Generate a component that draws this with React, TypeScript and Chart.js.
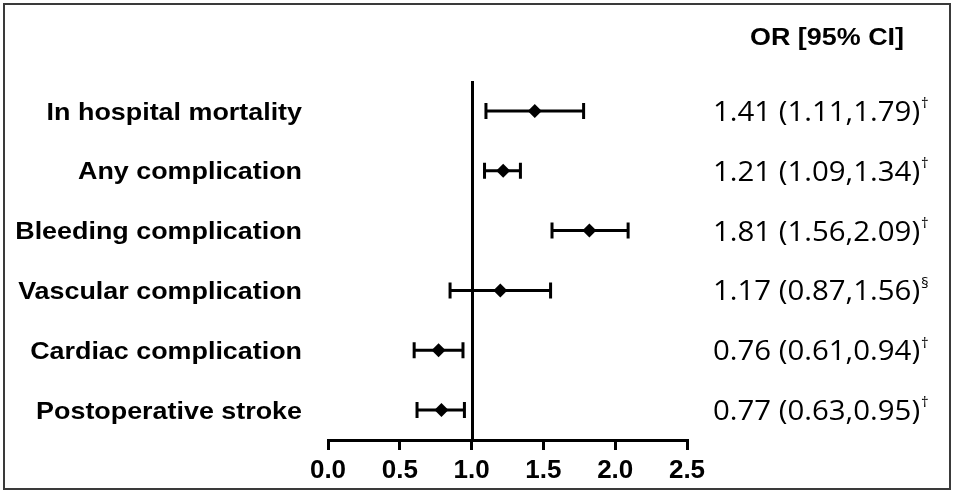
import React, { useEffect, useRef } from "react";
import { Chart, registerables } from "chart.js";

Chart.register(...registerables);

const outcomes = [
  "In hospital mortality",
  "Any complication",
  "Bleeding complication",
  "Vascular complication",
  "Cardiac complication",
  "Postoperative stroke",
];
const oddsRatio = [1.44, 1.22, 1.82, 1.2, 0.77, 0.79];
const ciLower = [1.1, 1.09, 1.56, 0.85, 0.6, 0.62];
const ciUpper = [1.78, 1.34, 2.09, 1.55, 0.94, 0.95];
const orText = [
  "1.41 (1.11,1.79)",
  "1.21 (1.09,1.34)",
  "1.81 (1.56,2.09)",
  "1.17 (0.87,1.56)",
  "0.76 (0.61,0.94)",
  "0.77 (0.63,0.95)",
];
const orMarks = ["†", "†", "†", "§", "†", "†"];
const xTicks = [0, 0.5, 1, 1.5, 2, 2.5];
const headerText = "OR [95% CI]";

function drawStretched(ctx: any, text: string, x: number, y: number, align: string, sx: number) {
  ctx.save();
  ctx.translate(x, y);
  ctx.scale(sx, 1);
  ctx.textAlign = align;
  ctx.fillText(text, 0, 0);
  const w = ctx.measureText(text).width * sx;
  ctx.restore();
  return w;
}

const forestPlugin = {
  id: "forest",
  beforeDatasetsDraw(chart: any) {
    const { ctx, scales } = chart;
    const xs = scales.x;
    const ys = scales.y;
    ctx.save();
    ctx.strokeStyle = "#000";
    ctx.lineWidth = 3;
    const x1 = Math.round(xs.getPixelForValue(1)) + 0.5;
    ctx.beginPath();
    ctx.moveTo(x1, chart.chartArea.top);
    ctx.lineTo(x1, chart.chartArea.bottom);
    ctx.stroke();
    for (let i = 0; i < outcomes.length; i++) {
      const y = ys.getPixelForValue(i);
      const xl = xs.getPixelForValue(ciLower[i]);
      const xu = xs.getPixelForValue(ciUpper[i]);
      ctx.beginPath();
      ctx.moveTo(xl, y);
      ctx.lineTo(xu, y);
      ctx.moveTo(xl, y - 8);
      ctx.lineTo(xl, y + 8);
      ctx.moveTo(xu, y - 8);
      ctx.lineTo(xu, y + 8);
      ctx.stroke();
    }
    ctx.restore();
  },
  afterDraw(chart: any) {
    const { ctx, scales } = chart;
    const ys = scales.y;
    ctx.save();
    ctx.fillStyle = "#000";
    ctx.textBaseline = "middle";
    ctx.font = "bold 24px 'Liberation Sans', Arial, sans-serif";
    for (let i = 0; i < outcomes.length; i++) {
      drawStretched(ctx, outcomes[i], 302, ys.getPixelForValue(i) + 2, "right", 1.12);
    }
    ctx.font = "bold 23px 'Liberation Sans', Arial, sans-serif";
    drawStretched(ctx, headerText, 750, 39, "left", 1.17);
    for (let i = 0; i < outcomes.length; i++) {
      const y = ys.getPixelForValue(i) + 2;
      ctx.font = "28px 'Open Sans', sans-serif";
      const w = drawStretched(ctx, orText[i], 713, y, "left", 1.05);
      ctx.font = "15px 'Open Sans', sans-serif";
      drawStretched(ctx, orMarks[i], 713 + w + 1, y - 9, "left", 1.0);
    }
    ctx.restore();
  },
};

export default function App() {
  const ref = useRef<HTMLCanvasElement | null>(null);
  useEffect(() => {
    if (!ref.current) return;
    const chart = new Chart(ref.current, {
      type: "scatter",
      data: {
        datasets: [
          {
            data: oddsRatio.map((v, i) => ({ x: v, y: i })),
            pointStyle: "rectRot",
            pointRadius: 7,
            pointHoverRadius: 7,
            backgroundColor: "#000",
            borderColor: "#000",
            borderWidth: 0,
          },
        ],
      },
      options: {
        animation: false,
        responsive: false,
        events: [],
        layout: { padding: { left: 328, right: 266, top: 81, bottom: 0 } },
        plugins: { legend: { display: false }, tooltip: { enabled: false } },
        scales: {
          x: {
            type: "linear",
            min: 0,
            max: 2.5,
            afterFit(scale: any) {
              scale.height = 51;
            },
            afterBuildTicks(scale: any) {
              scale.ticks = xTicks.map((v) => ({ value: v }));
            },
            border: { display: true, width: 3, color: "#000" },
            grid: {
              drawOnChartArea: false,
              drawTicks: true,
              tickLength: 10,
              lineWidth: 3,
              color: "#000",
            },
            ticks: {
              color: "#000",
              padding: 5,
              maxRotation: 0,
              font: { family: "'Liberation Sans', Arial, sans-serif", size: 26, weight: "bold" },
              callback: (v: any) => Number(v).toFixed(1),
            },
          },
          y: {
            type: "linear",
            min: -0.5,
            max: 5.5,
            reverse: true,
            display: false,
          },
        },
      },
      plugins: [forestPlugin],
    } as any);
    return () => chart.destroy();
  }, []);
  return (
    <div style={{ position: "fixed", left: 0, top: 0, width: 953, height: 491, background: "#fff" }}>
      <canvas ref={ref} width={953} height={491} style={{ display: "block" }} />
      <div
        style={{
          position: "absolute",
          left: 3,
          top: 3,
          width: 948,
          height: 487,
          boxSizing: "border-box",
          border: "2px solid #3a3a3a",
          pointerEvents: "none",
        }}
      />
    </div>
  );
}
